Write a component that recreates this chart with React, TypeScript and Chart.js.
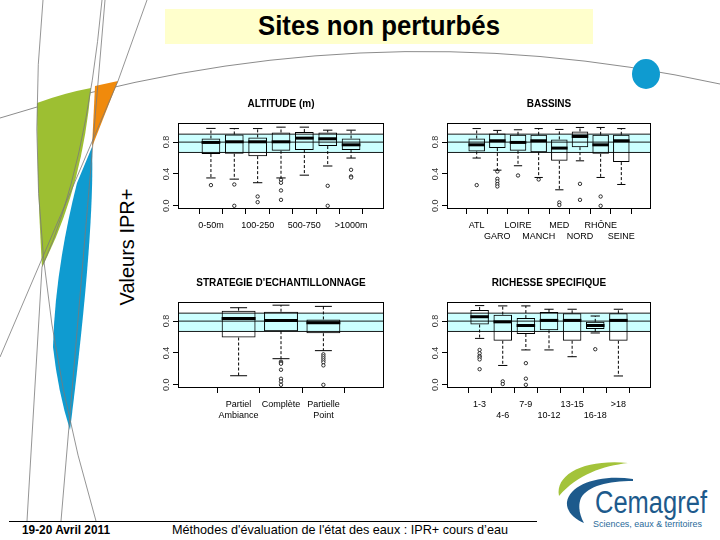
import React, { useEffect, useRef } from 'react';
import { Chart, registerables } from 'chart.js';

Chart.register(...registerables);

const FONT = "'Liberation Sans', Arial, Helvetica, sans-serif";
Chart.defaults.font.family = FONT;

// Reference band (lower limit, middle line, upper limit)
const BAND_LOW = 0.67;
const BAND_MID = 0.8;
const BAND_HIGH = 0.9;
const BAND_COLOR = 'rgb(204,255,255)';

const Y_TICKS = [0, 0.4, 0.8];

// ALTITUDE (m)
const altCats = ['0-50m', '50-100', '100-250', '250-500', '500-750', '750-1000', '>1000m'];
const altLow = [0.35, 0.335, 0.29, 0.35, 0.385, 0.5, 0.6];
const altQ1 = [0.65, 0.653, 0.624, 0.691, 0.7, 0.75, 0.7];
const altMed = [0.796, 0.804, 0.804, 0.804, 0.85, 0.842, 0.766];
const altQ3 = [0.846, 0.896, 0.859, 0.921, 0.926, 0.921, 0.846];
const altHigh = [0.972, 0.97, 0.97, 0.988, 0.988, 0.95, 0.95];
const altOut = [[0.26], [0.268, 0.0], [0.117, 0.046], [0.327, 0.289, 0.193, 0.075], [], [0.251, 0.0], [0.452, 0.369, 0.356]];

// BASSINS
const basCats = ['ATL', 'GARO', 'LOIRE', 'MANCH', 'MED', 'NORD', 'RHÔNE', 'SEINE'];
const basLow = [0.6, 0.448, 0.503, 0.356, 0.201, 0.565, 0.356, 0.268];
const basQ1 = [0.683, 0.725, 0.691, 0.674, 0.565, 0.737, 0.653, 0.549];
const basMed = [0.766, 0.817, 0.796, 0.817, 0.725, 0.871, 0.766, 0.817];
const basQ3 = [0.846, 0.909, 0.892, 0.892, 0.834, 0.934, 0.892, 0.892];
const basHigh = [0.97, 0.947, 0.955, 0.97, 0.959, 0.984, 0.984, 0.97];
const basOut = [[0.26], [0.431, 0.339, 0.306, 0.272, 0.243], [0.381], [0.331], [0.042, 0.01], [0.276, 0.075], [0.117, 0.0], []];

// STRATEGIE D'ECHANTILLONNAGE
const strCats = ['Partiel\nAmbiance', 'Complète', 'Partielle\nPoint'];
const strLow = [0.114, 0.328, 0.429];
const strQ1 = [0.594, 0.674, 0.648];
const strMed = [0.834, 0.808, 0.779];
const strQ3 = [0.931, 0.918, 0.821];
const strHigh = [0.968, 1.0, 0.985];
const strOut = [[], [0.291, 0.278, 0.265, 0.189, 0.076, 0.042, 0.0], [0.383, 0.358, 0.333, 0.307, 0.282, 0.244, 0.0]];

// RICHESSE SPECIFIQUE
const ricCats = ['1-3', '4-6', '7-9', '10-12', '13-15', '16-18', '>18'];
const ricLow = [0.583, 0.243, 0.438, 0.438, 0.353, 0.651, 0.111];
const ricQ1 = [0.757, 0.553, 0.638, 0.685, 0.553, 0.702, 0.553];
const ricMed = [0.855, 0.791, 0.745, 0.809, 0.809, 0.745, 0.809];
const ricQ3 = [0.94, 0.881, 0.838, 0.915, 0.898, 0.791, 0.898];
const ricHigh = [0.995, 0.991, 0.991, 0.949, 0.949, 0.864, 0.949];
const ricOut = [[0.438, 0.396, 0.362, 0.345, 0.319, 0.196], [0.043, 0.01], [0.272, 0.077, 0.0], [], [], [0.447], []];

type LabelMode = 'alternate' | 'twoRows' | 'lines';

interface PanelProps {
  title: string;
  cats: string[];
  low: number[];
  q1: number[];
  med: number[];
  q3: number[];
  high: number[];
  out: number[][];
  mode: LabelMode;
  plot: { l: number; t: number; r: number; b: number };
}

const Y_AXIS_W = 38;
const X_AXIS_H = 45;
const TITLE_H = 25;
const RIGHT_PAD = 6;

function Panel(p: PanelProps) {
  const ref = useRef<HTMLCanvasElement>(null);
  useEffect(() => {
    if (!ref.current) return;
    const n = p.cats.length;
    const pad = 0.04 * n;

    const boxPlugin = {
      id: 'boxExtras',
      beforeDatasetsDraw(chart: any) {
        const { ctx, chartArea: a, scales } = chart;
        const y = scales.y;
        const yh = y.getPixelForValue(BAND_HIGH);
        const yl = y.getPixelForValue(BAND_LOW);
        const ym = y.getPixelForValue(BAND_MID);
        ctx.save();
        ctx.fillStyle = BAND_COLOR;
        ctx.fillRect(a.left, yh, a.right - a.left, yl - yh);
        ctx.strokeStyle = '#000';
        ctx.lineWidth = 0.9;
        [yh, ym, yl].forEach((yy) => {
          ctx.beginPath();
          ctx.moveTo(a.left, yy);
          ctx.lineTo(a.right, yy);
          ctx.stroke();
        });
        ctx.restore();
      },
      afterDatasetsDraw(chart: any) {
        const { ctx, chartArea: a, scales } = chart;
        const x = scales.x;
        const y = scales.y;
        const line = (x1: number, y1: number, x2: number, y2: number) => {
          ctx.beginPath();
          ctx.moveTo(x1, y1);
          ctx.lineTo(x2, y2);
          ctx.stroke();
        };
        ctx.save();
        ctx.strokeStyle = '#000';
        p.cats.forEach((_c, i) => {
          const xc = x.getPixelForValue(i);
          const hw = (x.getPixelForValue(i + 0.4) - x.getPixelForValue(i - 0.4)) / 2;
          const yLo = y.getPixelForValue(p.low[i]);
          const yQ1 = y.getPixelForValue(p.q1[i]);
          const yMed = y.getPixelForValue(p.med[i]);
          const yQ3 = y.getPixelForValue(p.q3[i]);
          const yHi = y.getPixelForValue(p.high[i]);
          ctx.lineWidth = 1;
          ctx.setLineDash([3, 2]);
          line(xc, yQ3, xc, yHi);
          line(xc, yQ1, xc, yLo);
          ctx.setLineDash([]);
          line(xc - hw / 2, yHi, xc + hw / 2, yHi);
          line(xc - hw / 2, yLo, xc + hw / 2, yLo);
          ctx.lineWidth = 3;
          line(xc - hw, yMed, xc + hw, yMed);
        });
        ctx.lineWidth = 1;
        ctx.strokeRect(Math.round(a.left) + 0.5, Math.round(a.top) + 0.5, Math.round(a.right - a.left) - 1, Math.round(a.bottom - a.top) - 1);
        ctx.restore();
      },
    };

    const tickLabel = (i: number): string | string[] => {
      const c = p.cats[i];
      if (c === undefined) return '';
      if (p.mode === 'alternate') return i % 2 === 0 ? c : '';
      if (p.mode === 'twoRows') return i % 2 === 0 ? [c] : ['', c];
      return c.split('\n');
    };

    const chart = new Chart(ref.current, {
      type: 'bar',
      data: {
        datasets: [
          {
            type: 'bar',
            data: p.cats.map((_c, i) => ({ x: i, y: [p.q1[i], p.q3[i]] })) as any,
            backgroundColor: 'rgba(0,0,0,0)',
            borderColor: '#000',
            borderWidth: 1,
            borderSkipped: false,
            barPercentage: 0.8,
            categoryPercentage: 1,
          } as any,
          {
            type: 'scatter',
            data: p.out.flatMap((vals, i) => vals.map((v) => ({ x: i, y: v }))),
            pointRadius: 1.7,
            pointBorderWidth: 0.8,
            pointBorderColor: '#000',
            pointBackgroundColor: '#fff',
          } as any,
        ],
      },
      options: {
        animation: false,
        responsive: true,
        maintainAspectRatio: false,
        events: [],
        layout: { padding: { left: 0, right: RIGHT_PAD, top: 0, bottom: 0 } },
        plugins: {
          legend: { display: false },
          tooltip: { enabled: false },
          title: {
            display: true,
            text: p.title,
            fullSize: false,
            color: '#000',
            font: { family: FONT, size: 10, weight: 'bold', lineHeight: 1.2 },
            padding: { top: 0, bottom: TITLE_H - 12 },
          },
        },
        scales: {
          x: {
            type: 'linear',
            min: -0.5 - pad,
            max: n - 0.5 + pad,
            afterBuildTicks: (scale: any) => {
              scale.ticks = p.cats.map((_c, i) => ({ value: i }));
            },
            afterFit: (scale: any) => {
              scale.height = X_AXIS_H;
              scale.paddingLeft = 0;
              scale.paddingRight = 0;
            },
            grid: { display: true, drawOnChartArea: false, drawTicks: true, tickLength: 5, color: '#000', lineWidth: 1 },
            border: { display: false },
            ticks: {
              autoSkip: false,
              maxRotation: 0,
              minRotation: 0,
              padding: 6,
              color: '#000',
              font: { family: FONT, size: 9, lineHeight: 1.2 },
              callback: (value: any) => tickLabel(Math.round(Number(value))),
            },
          },
          y: {
            type: 'linear',
            min: -0.04,
            max: 1.04,
            afterBuildTicks: (scale: any) => {
              scale.ticks = Y_TICKS.map((v) => ({ value: v }));
            },
            afterFit: (scale: any) => {
              scale.width = Y_AXIS_W;
              scale.paddingTop = 0;
              scale.paddingBottom = 0;
              scale.paddingLeft = 0;
              scale.paddingRight = 0;
            },
            grid: { display: true, drawOnChartArea: false, drawTicks: true, tickLength: 5, color: '#000', lineWidth: 1 },
            border: { display: false },
            ticks: {
              minRotation: 90,
              maxRotation: 90,
              crossAlign: 'center',
              padding: 0,
              color: '#333',
              font: { family: FONT, size: 9 },
              callback: (value: any) => Number(value).toFixed(1),
            },
          },
        },
      } as any,
      plugins: [boxPlugin],
    });
    return () => chart.destroy();
  }, []);

  const left = p.plot.l - Y_AXIS_W;
  const top = p.plot.t - TITLE_H;
  const width = p.plot.r + RIGHT_PAD - left;
  const height = p.plot.b + X_AXIS_H - top;
  return (
    <div style={{ position: 'absolute', left, top, width, height }}>
      <canvas ref={ref} />
    </div>
  );
}

function Decorations() {
  const thin = { stroke: '#7a7a7a', strokeWidth: 0.8, fill: 'none' };
  return (
    <svg width={720} height={540} style={{ position: 'absolute', left: 0, top: 0 }}>
      {/* title band */}
      <rect x={165} y={9} width={428} height={35} fill="#ffffcc" />
      <text x={258} y={35} textLength={242} lengthAdjust="spacingAndGlyphs" fontFamily={FONT} fontWeight="bold" fontSize={27} fill="#000">
        Sites non perturbés
      </text>
      {/* arc + dot */}
      <path d="M0,118 Q360,5 720,84" stroke="#8c8c8c" strokeWidth={1} fill="none" />
      <ellipse cx={646} cy={74} rx={14} ry={15} fill="#0f9bd0" />
      {/* left ribbon shapes */}
      <path d="M37,103 Q64,93 91,88 Q82,190 42,267 Q37,185 37,103 Z" fill="#9dbf32" />
      <path d="M95,86 L118,81 L92,147 Z" fill="#f08a0c" />
      <path d="M92,147 L77,183 Q55,270 53,347 Q58,392 70,430 Q95,231 92,147 Z" fill="#0f9bd0" />
      {/* thin lines */}
      <path d="M43,0 Q17.7,257 96,521" {...thin} />
      <path d="M102,0 Q86,170 42,267 L27,521" {...thin} />
      <path d="M105,0 L61,521" {...thin} />
      <path d="M147,0 L118,81 L0,357" {...thin} />
      {/* y axis common title */}
      <text transform="translate(134,247) rotate(-90)" textAnchor="middle" fontFamily={FONT} fontSize={20} fill="#000">
        Valeurs IPR+
      </text>
      {/* footer */}
      <line x1={9} y1={521.5} x2={537} y2={521.5} stroke="#000" strokeWidth={1} />
      <text x={22} y={534} textLength={88} lengthAdjust="spacingAndGlyphs" fontFamily={FONT} fontWeight="bold" fontSize={12.5} fill="#000">
        19-20 Avril 2011
      </text>
      <text x={172} y={534} textLength={336} lengthAdjust="spacingAndGlyphs" fontFamily={FONT} fontSize={13} fill="#000">
        Méthodes d'évaluation de l'état des eaux : IPR+ cours d’eau
      </text>
      {/* logo */}
      <path d="M559,496 C555,474 585,459 628,463 C603,466 578,474 559,496 Z" fill="#a3c33a" />
      <path d="M633,479 C600,474 570,484 567,502 C566,511 574,519 584,523 C579,514 578,505 581,498 C588,486 608,481 633,481 Z" fill="#1d5a8c" />
      <text x={595} y={513} textLength={112} lengthAdjust="spacingAndGlyphs" fontFamily={FONT} fontSize={31} fill="#1d5a8c">
        Cemagref
      </text>
      <text x={593} y={527} textLength={109} lengthAdjust="spacingAndGlyphs" fontFamily={FONT} fontSize={9} fill="#2a6a9a">
        Sciences, eaux &amp; territoires
      </text>
    </svg>
  );
}

export default function App() {
  return (
    <div style={{ position: 'fixed', left: 0, top: 0, width: 720, height: 540, background: '#fff', overflow: 'hidden' }}>
      <Decorations />
      <Panel title="ALTITUDE (m)" cats={altCats} low={altLow} q1={altQ1} med={altMed} q3={altQ3} high={altHigh} out={altOut} mode="alternate" plot={{ l: 178, t: 123, r: 384, b: 209 }} />
      <Panel title="BASSINS" cats={basCats} low={basLow} q1={basQ1} med={basMed} q3={basQ3} high={basHigh} out={basOut} mode="twoRows" plot={{ l: 447, t: 123, r: 651, b: 209 }} />
      <Panel title="STRATEGIE D'ECHANTILLONNAGE" cats={strCats} low={strLow} q1={strQ1} med={strMed} q3={strQ3} high={strHigh} out={strOut} mode="lines" plot={{ l: 178, t: 302, r: 384, b: 388 }} />
      <Panel title="RICHESSE SPECIFIQUE" cats={ricCats} low={ricLow} q1={ricQ1} med={ricMed} q3={ricQ3} high={ricHigh} out={ricOut} mode="twoRows" plot={{ l: 447, t: 302, r: 651, b: 388 }} />
    </div>
  );
}
